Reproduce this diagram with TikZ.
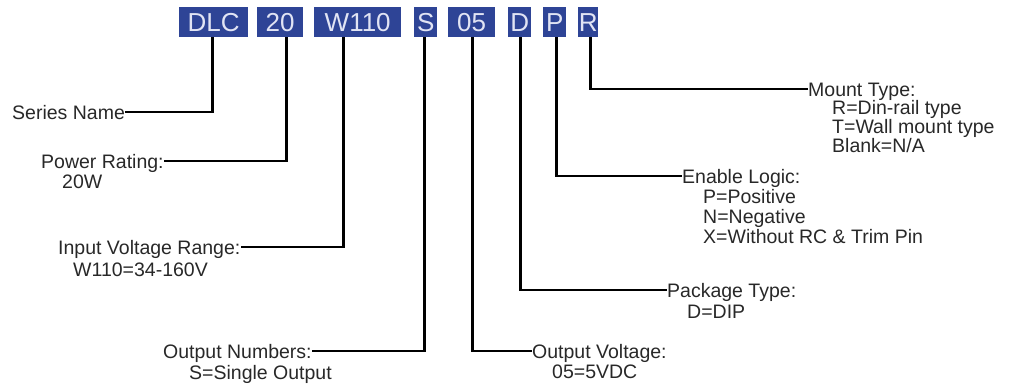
\documentclass[tikz,border=0pt]{standalone}
\usepackage{fontspec}
\setmainfont{Liberation Sans}
\definecolor{boxblue}{RGB}{46,68,150}
\definecolor{boxtext}{RGB}{225,228,244}
\definecolor{labtext}{RGB}{40,40,40}
\begin{document}
\begin{tikzpicture}[x=1pt,y=-1pt,
  codebox/.style={fill=boxblue, text=boxtext, inner sep=0pt, minimum height=30pt, font=\fontsize{26}{26}\selectfont, anchor=north west},
  title/.style={anchor=west, inner sep=0pt, text height=14pt, text depth=0pt, text=labtext, font=\fontsize{19.5}{20}\selectfont},
  sub/.style={anchor=base west, inner sep=0pt, text=labtext, font=\fontsize{19.5}{20}\selectfont},
  conn/.style={draw=black, line width=2.7pt}]
\useasboundingbox (0,0) rectangle (1016,385);
% code boxes
\node[codebox, minimum width=69pt] (bDLC) at (179,7) {DLC};
\node[codebox, minimum width=46pt] (b20) at (257,7) {20};
\node[codebox, minimum width=87pt] (bW) at (314,7) {W110};
\node[codebox, minimum width=23pt] (bS) at (414,7) {S};
\node[codebox, minimum width=47pt] (b05) at (448,7) {05};
\node[codebox, minimum width=23pt] (bD) at (508,7) {D};
\node[codebox, minimum width=23pt] (bP) at (543,7) {P};
\node[codebox, minimum width=20pt] (bR) at (578,7) {R};
% labels
\node[title] (t1) at (12,112) {Series Name};
\node[title] (t2) at (41,161) {Power Rating:};
\node[sub] (t2a) at (62,188) {20W};
\node[title] (t3) at (58,247) {Input Voltage Range:};
\node[sub] (t3a) at (73,276) {W110=34-160V};
\node[title] (t4) at (163,351) {Output Numbers:};
\node[sub] (t4a) at (189,379) {S=Single Output};
\node[title] (t5) at (532,351) {Output Voltage:};
\node[sub] (t5a) at (552,378) {05=5VDC};
\node[title] (t6) at (667,290) {Package Type:};
\node[sub] (t6a) at (687,318) {D=DIP};
\node[title] (t7) at (682,176) {Enable Logic:};
\node[sub] (t7a) at (703,203) {P=Positive};
\node[sub] (t7b) at (703,223) {N=Negative};
\node[sub] (t7c) at (703,243) {X=Without RC \& Trim Pin};
\node[title] (t8) at (808,89) {Mount Type:};
\node[sub] (t8a) at (832,114) {R=Din-rail type};
\node[sub] (t8b) at (832,133) {T=Wall mount type};
\node[sub] (t8c) at (832,152) {Blank=N/A};
% connectors
\draw[conn] ([xshift=-1.5pt]bDLC.south) |- (t1.east);
\draw[conn] ([xshift=6pt]b20.south) |- (t2.east);
\draw[conn] ([xshift=-14.5pt]bW.south) |- (t3.east);
\draw[conn] ([xshift=-1.5pt]bS.south) |- (t4.east);
\draw[conn] ([xshift=0.5pt]b05.south) |- (t5.west);
\draw[conn] ([xshift=0.5pt]bD.south) |- (t6.west);
\draw[conn] ([xshift=1.5pt]bP.south) |- (t7.west);
\draw[conn] ([xshift=2pt]bR.south) |- (t8.west);
\end{tikzpicture}
\end{document}
